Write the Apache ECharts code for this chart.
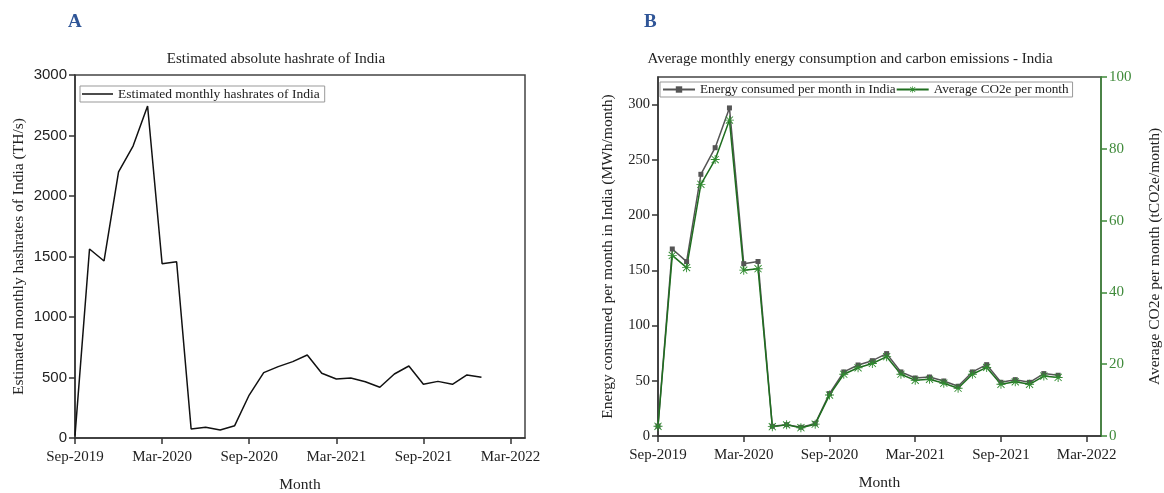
<!DOCTYPE html>
<html>
<head>
<meta charset="utf-8">
<script src="https://cdn.jsdelivr.net/npm/echarts@6/dist/echarts.min.js"></script>
<style>
  html, body { margin: 0; padding: 0; background: #fff; }
  #chart { width: 1164px; height: 493px; }
</style>
</head>
<body>
<div id="chart"></div>
<script>
// Month axis shared by both panels (Sep-2019 .. Apr-2022)
const months = [
  'Sep-2019', 'Oct-2019', 'Nov-2019', 'Dec-2019', 'Jan-2020', 'Feb-2020',
  'Mar-2020', 'Apr-2020', 'May-2020', 'Jun-2020', 'Jul-2020', 'Aug-2020',
  'Sep-2020', 'Oct-2020', 'Nov-2020', 'Dec-2020', 'Jan-2021', 'Feb-2021',
  'Mar-2021', 'Apr-2021', 'May-2021', 'Jun-2021', 'Jul-2021', 'Aug-2021',
  'Sep-2021', 'Oct-2021', 'Nov-2021', 'Dec-2021', 'Jan-2022', 'Feb-2022',
  'Mar-2022', 'Apr-2022'
];

// Panel A: estimated monthly hashrate (TH/s)
const hashrate = [
  20, 1562, 1463, 2200, 2413, 2744, 1440, 1457, 74, 88, 66, 102,
  355, 540, 590, 631, 686, 535, 488, 496, 465, 419, 529, 595,
  444, 468, 444, 521, 502
];

// Panel B: energy consumed (MWh/month) and CO2e (tCO2e/month)
const energy = [
  9, 169.3, 157.9, 236.9, 261, 297, 156, 158, 8.8, 10.3, 7.9, 11.2,
  38.4, 58, 64.3, 68.2, 74.6, 58, 52.5, 53.4, 49.8, 45, 58, 64.6,
  48.6, 51, 48.6, 56.5, 55
];
const co2e = [
  2.7, 50.3, 46.9, 70.1, 77, 88, 46.2, 46.6, 2.6, 3.1, 2.3, 3.3,
  11.4, 17.2, 19, 20.2, 22.1, 17.2, 15.5, 15.8, 14.7, 13.3, 17.2, 19.1,
  14.4, 15.1, 14.4, 16.7, 16.3
];

// Tick values for each value axis
const hashTicks = [0, 500, 1000, 1500, 2000, 2500, 3000];
const energyTicks = [0, 50, 100, 150, 200, 250, 300];
const co2Ticks = [0, 20, 40, 60, 80, 100];

const serif = 'Liberation Serif';
const axisDark = '#333';
const green = '#3f8a3a';

// Asterisk marker built from four thin bars
const starPath = 'path://M0,4.5 L10,4.5 L10,5.5 L0,5.5 Z M4.5,0 L5.5,0 L5.5,10 L4.5,10 Z ' +
  'M0.7,1.4 L1.4,0.7 L9.3,8.6 L8.6,9.3 Z M8.6,0.7 L9.3,1.4 L1.4,9.3 L0.7,8.6 Z';

function monthAxis(gridIndex) {
  return {
    type: 'category',
    gridIndex: gridIndex,
    data: months,
    boundaryGap: false,
    name: 'Month',
    nameLocation: 'middle',
    nameGap: 39,
    nameTextStyle: { fontFamily: serif, fontSize: 15.5, color: '#222' },
    axisLine: { lineStyle: { color: axisDark, width: 1.5 } },
    axisTick: { show: true, interval: 5, length: 6, lineStyle: { color: axisDark, width: 1.5 } },
    axisLabel: { interval: 5, fontFamily: serif, fontSize: 15, color: '#222', margin: 12 },
    splitLine: { show: false }
  };
}

const chart = echarts.init(document.getElementById('chart'), null, { renderer: 'canvas' });

chart.setOption({
  animation: false,
  backgroundColor: '#fff',
  title: [
    { text: 'A', left: 63, top: 8, textStyle: { fontFamily: serif, fontWeight: 'bold', fontSize: 19, color: '#2f5597' } },
    { text: 'B', left: 639, top: 8, textStyle: { fontFamily: serif, fontWeight: 'bold', fontSize: 19, color: '#2f5597' } },
    { text: 'Estimated absolute hashrate of India', left: 271, textAlign: 'center', top: 47,
      textStyle: { fontFamily: serif, fontWeight: 'normal', fontSize: 15, color: '#222' } },
    { text: 'Average monthly energy consumption and carbon emissions - India', left: 845, textAlign: 'center', top: 47,
      textStyle: { fontFamily: serif, fontWeight: 'normal', fontSize: 15, color: '#222' } }
  ],
  legend: [
    {
      data: [{ name: 'Estimated monthly hashrates of India', icon: 'rect' }],
      left: 80, top: 86,
      orient: 'horizontal',
      itemWidth: 31, itemHeight: 1.5, itemGap: 2,
      padding: [1, 5, 1, 2],
      borderColor: '#999', borderWidth: 1,
      textStyle: { fontFamily: serif, fontSize: 13.5, color: '#222' }
    },
    {
      data: ['Energy consumed per month in India', 'Average CO2e per month'],
      left: 660, top: 82,
      orient: 'horizontal',
      itemWidth: 32, itemHeight: 8, itemGap: 0,
      padding: [1, 4, 1, 2],
      borderColor: '#999', borderWidth: 1,
      textStyle: { fontFamily: serif, fontSize: 13.2, color: '#222' }
    }
  ],
  grid: [
    { left: 75, top: 75, width: 450, height: 363, outerBoundsMode: 'none', containLabel: false,
      show: true, borderColor: '#444', borderWidth: 1.5, backgroundColor: 'transparent' },
    { left: 658, top: 77, width: 443, height: 359, outerBoundsMode: 'none', containLabel: false,
      show: true, borderColor: '#444', borderWidth: 1.5, backgroundColor: 'transparent' }
  ],
  xAxis: [monthAxis(0), monthAxis(1)],
  yAxis: [
    {
      type: 'value', gridIndex: 0, min: hashTicks[0], max: hashTicks[hashTicks.length - 1], interval: 500,
      name: 'Estimated monthly hashrates of India (TH/s)', nameLocation: 'middle', nameGap: 48,
      nameTextStyle: { fontFamily: serif, fontSize: 15.5, color: '#222' },
      axisLine: { show: true, lineStyle: { color: axisDark, width: 1.5 } },
      axisTick: { show: true, length: 6, lineStyle: { color: axisDark, width: 1.5 } },
      axisLabel: { fontFamily: 'Liberation Sans', fontSize: 15, color: '#222', margin: 8,
        formatter: (v) => String(v) },
      splitLine: { show: false }
    },
    {
      type: 'value', gridIndex: 1, min: 0, max: 325, interval: 50,
      name: 'Energy consumed per month in India (MWh/month)', nameLocation: 'middle', nameGap: 42,
      nameTextStyle: { fontFamily: serif, fontSize: 15.5, color: '#222' },
      axisLine: { show: true, lineStyle: { color: axisDark, width: 1.5 } },
      axisTick: { show: true, length: 6, customValues: energyTicks, lineStyle: { color: axisDark, width: 1.5 } },
      axisLabel: { customValues: energyTicks, fontFamily: serif, fontSize: 14.5, color: '#222', margin: 8 },
      splitLine: { show: false }
    },
    {
      type: 'value', gridIndex: 1, position: 'right', min: co2Ticks[0], max: co2Ticks[co2Ticks.length - 1], interval: 20,
      name: 'Average CO2e per month (tCO2e/month)', nameLocation: 'middle', nameGap: 46, nameRotate: 90,
      nameTextStyle: { fontFamily: serif, fontSize: 15.5, color: '#222' },
      axisLine: { show: true, lineStyle: { color: green, width: 1.5 } },
      axisTick: { show: true, length: 6, lineStyle: { color: green, width: 1.5 } },
      axisLabel: { fontFamily: serif, fontSize: 15, color: green, margin: 8 },
      splitLine: { show: false }
    }
  ],
  series: [
    {
      name: 'Estimated monthly hashrates of India',
      type: 'line', xAxisIndex: 0, yAxisIndex: 0,
      data: hashrate,
      symbol: 'none',
      lineStyle: { color: '#111', width: 1.5 },
      itemStyle: { color: '#111' }
    },
    {
      name: 'Energy consumed per month in India',
      type: 'line', xAxisIndex: 1, yAxisIndex: 1,
      data: energy,
      symbol: 'rect', symbolSize: 5,
      lineStyle: { color: '#555', width: 1.5 },
      itemStyle: { color: '#555' }
    },
    {
      name: 'Average CO2e per month',
      type: 'line', xAxisIndex: 1, yAxisIndex: 2,
      data: co2e,
      symbol: starPath, symbolSize: 9,
      lineStyle: { color: '#1f6e1f', width: 1.5 },
      itemStyle: { color: '#2e8b2e' },
      z: 3
    }
  ]
});
</script>
</body>
</html>
